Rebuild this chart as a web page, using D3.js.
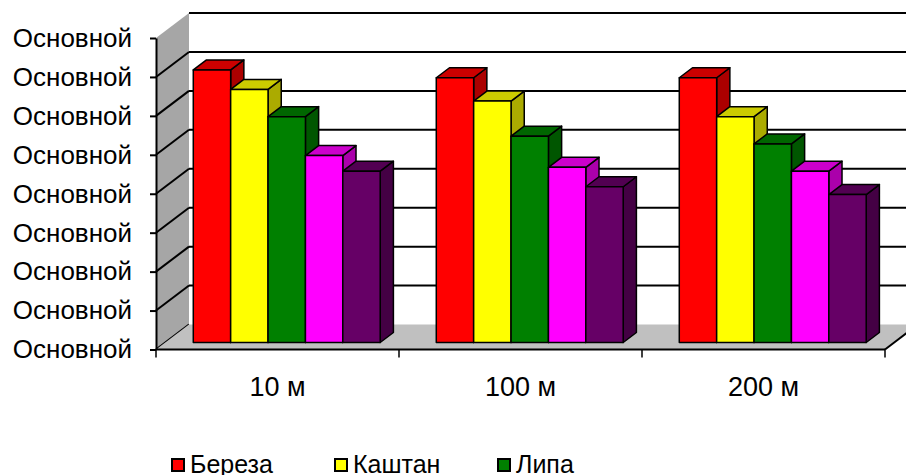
<!DOCTYPE html>
<html>
<head>
<meta charset="utf-8">
<script src="https://cdn.jsdelivr.net/npm/d3@7/dist/d3.min.js"></script>
<style>
  html, body { margin: 0; padding: 0; background: #fff; }
  svg { display: block; font-family: "Liberation Sans", Arial, sans-serif; }
</style>
</head>
<body>
<script>
// Categories (distance) and series values
const categories = ["10 м", "100 м", "200 м"];
const seriesNames = ["Береза", "Каштан", "Липа", "Ряд 4", "Ряд 5"];
const bereza  = [7.0, 6.8, 6.8];
const kashtan = [6.5, 6.2, 5.8];
const lipa    = [5.8, 5.3, 5.1];
const series4 = [4.8, 4.5, 4.4];
const series5 = [4.4, 4.0, 3.8];
const tickValues = [0, 1, 2, 3, 4, 5, 6, 7, 8];
const tickLabels = ["Основной", "Основной", "Основной", "Основной", "Основной",
                    "Основной", "Основной", "Основной", "Основной"];
const legendCount = 3; // the legend row holds the first three series

const seriesValues = [bereza, kashtan, lipa, series4, series5];
const frontColors = ["#ff0000", "#ffff00", "#008000", "#ff00ff", "#660066"];

const W = 906, H = 475;
const svg = d3.select("body").append("svg").attr("width", W).attr("height", H);

// Front plane of the 3D box
const plotLeft = 156, plotRight = 885;
const y = d3.scaleLinear().domain([0, 8]).range([349.5, 38]);
const x0 = d3.scaleBand().domain(categories).range([plotLeft, plotRight])
  .paddingInner(0).paddingOuter(0);
const x1 = d3.scaleBand().domain(seriesNames).range([0, x0.bandwidth()])
  .paddingInner(0).paddingOuter(0.75);

// Oblique depth projection: z in [0,1] from front plane to back wall
const depthDx = 33, depthDy = -25;
const proj = (px, py, z) => [px + z * depthDx, py + z * depthDy];
const zFront = 0.28, zBack = 0.68;
const poly = pts => pts.map(p => p.join(",")).join(" ");

// Back wall
svg.append("polygon")
  .attr("points", poly([proj(plotLeft, y(8), 1), [W + 20, proj(plotLeft, y(8), 1)[1]],
                        [W + 20, proj(plotLeft, y(0), 1)[1]], proj(plotLeft, y(0), 1)]))
  .attr("fill", "#ffffff");

// Side wall
svg.append("polygon")
  .attr("points", poly([proj(plotLeft, y(8), 0), proj(plotLeft, y(8), 1),
                        proj(plotLeft, y(0), 1), proj(plotLeft, y(0), 0)]))
  .attr("fill", "#a6a6a6");

// Gridlines on the back wall and the side wall
tickValues.filter(t => t > 0).forEach(t => {
  const a = proj(plotLeft, y(t), 1);
  svg.append("line").attr("x1", a[0]).attr("y1", a[1]).attr("x2", W + 20).attr("y2", a[1])
    .attr("stroke", "#000").attr("stroke-width", 2);
});
tickValues.filter(t => t < 8).forEach(t => {
  const a = proj(plotLeft, y(t), 0), b = proj(plotLeft, y(t), 1);
  svg.append("line").attr("x1", a[0]).attr("y1", a[1]).attr("x2", b[0]).attr("y2", b[1])
    .attr("stroke", "#000").attr("stroke-width", 2);
});

// Floor
svg.append("polygon")
  .attr("points", poly([proj(plotLeft, y(0), 0), proj(plotLeft, y(0), 1),
                        proj(plotRight, y(0), 1), proj(plotRight, y(0), 0)]))
  .attr("fill", "#c0c0c0");
{
  const a = proj(plotRight, y(0), 0), b = proj(plotRight, y(0), 1);
  svg.append("line").attr("x1", a[0]).attr("y1", a[1]).attr("x2", b[0]).attr("y2", b[1])
    .attr("stroke", "#000").attr("stroke-width", 2);
}

// Bars: right side, top, then front face; drawn left to right
const bars = svg.append("g").attr("stroke", "#000").attr("stroke-width", 1.5)
  .attr("stroke-linejoin", "round");
categories.forEach((c, ci) => {
  seriesNames.forEach((s, si) => {
    const v = seriesValues[si][ci];
    const xl = x0(c) + x1(s), xr = xl + x1.bandwidth();
    const yt = y(v), yb = y(0);
    const base = d3.rgb(frontColors[si]);
    const shade = k => d3.rgb(base.r * k, base.g * k, base.b * k).formatHex();
    bars.append("polygon")
      .attr("points", poly([proj(xr, yt, zFront), proj(xr, yt, zBack), proj(xr, yb, zBack), proj(xr, yb, zFront)]))
      .attr("fill", shade(0.67));
    bars.append("polygon")
      .attr("points", poly([proj(xl, yt, zFront), proj(xr, yt, zFront), proj(xr, yt, zBack), proj(xl, yt, zBack)]))
      .attr("fill", shade(0.8));
    bars.append("polygon")
      .attr("points", poly([proj(xl, yt, zFront), proj(xr, yt, zFront), proj(xr, yb, zFront), proj(xl, yb, zFront)]))
      .attr("fill", base.formatHex());
  });
});

// Value axis
const yAxis = d3.axisLeft(y).tickValues(tickValues)
  .tickFormat((d, i) => tickLabels[i]).tickSize(6).tickSizeOuter(0).tickPadding(18);
const gy = svg.append("g").attr("transform", `translate(${plotLeft},0)`).call(yAxis);
gy.select(".domain").attr("stroke-width", 2);
gy.selectAll(".tick line").attr("stroke-width", 2);
gy.selectAll("text").attr("font-size", 26).attr("font-family", "Liberation Sans, Arial, sans-serif")
  .attr("fill", "#000");

// Category axis: front floor edge, boundary ticks, centred labels
const gx = svg.append("g").attr("transform", `translate(0,${y(0)})`);
gx.append("line").attr("x1", plotLeft).attr("x2", plotRight).attr("y1", 0).attr("y2", 0)
  .attr("stroke", "#000").attr("stroke-width", 2);
const bounds = categories.map(c => x0(c)).concat([x0.range()[1]]);
gx.selectAll(".ctick").data(bounds).join("line").attr("class", "ctick")
  .attr("x1", d => d).attr("x2", d => d).attr("y1", 0).attr("y2", 8)
  .attr("stroke", "#000").attr("stroke-width", 1.5);
gx.selectAll(".clabel").data(categories).join("text").attr("class", "clabel")
  .attr("x", d => x0(d) + x0.bandwidth() / 2).attr("y", 46.5)
  .attr("text-anchor", "middle").attr("font-size", 27).attr("fill", "#000")
  .text(d => d);

// Legend
const legend = svg.append("g").attr("transform", "translate(171,458)");
const items = legend.selectAll("g").data(seriesNames.slice(0, legendCount)).join("g")
  .attr("transform", (d, i) => `translate(${i * 163},0)`);
items.append("rect").attr("x", 1).attr("y", 1).attr("width", 12).attr("height", 12)
  .attr("fill", (d, i) => frontColors[i]).attr("stroke", "#000").attr("stroke-width", 2);
items.append("text").attr("x", 19).attr("y", 14.5).attr("font-size", 25).attr("fill", "#000")
  .text(d => d);
</script>
</body>
</html>
